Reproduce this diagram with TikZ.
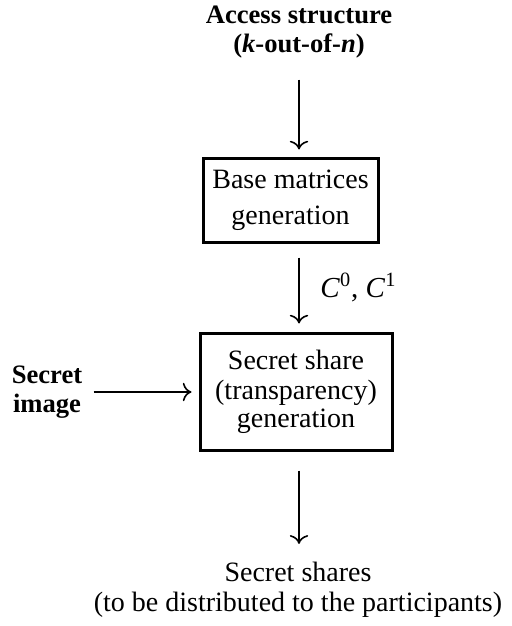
\documentclass[tikz,border=0pt]{standalone}
\usepackage{fontspec}
\setmainfont{Liberation Serif}
\usetikzlibrary{arrows.meta,positioning}

\tikzset{
  procbox/.style={draw,line width=1.5pt,align=center,inner sep=0pt},
  headtext/.style={align=center,font=\fontsize{13.3}{14.5}\selectfont\bfseries},
  plaintext/.style={align=center,font=\fontsize{14}{15}\selectfont},
  flow/.style={->,line width=0.8pt},
}

\begin{document}
\begin{tikzpicture}[x=0.5pt,y=-0.5pt,line width=0.8pt,>={To[scale=1.3]}]
\useasboundingbox (0,0) rectangle (512,626);
% ---------- 输入 ----------
\node[headtext] (access) at (299,32) {Access structure\\(\textit{k}-out-of-\textit{n})};
\node[headtext] (secret) at (47,392) {Secret\\image};
% ---------- 处理框 ----------
\node[procbox,minimum width=87.5pt,minimum height=42pt,
      font=\fontsize{14}{18}\selectfont] (base) at (290.5,200) {Base matrices\\generation};
\node[procbox,minimum width=96pt,minimum height=58.5pt,
      font=\fontsize{14}{15}\selectfont] (gen) at (296,391.5) {Secret share\\(transparency)\\[-1pt]generation};
% ---------- 输出 ----------
\node[plaintext] (shares) at (298,590) {Secret shares\\(to be distributed to the participants)};
% ---------- 箭头 ----------
\draw[flow,shorten <=7pt,shorten >=3.5pt] (access.south) -- (access.south |- base.north);
\draw[flow,shorten <=7pt,shorten >=4pt] (access.south |- base.south) -- (access.south |- gen.north)
  node[midway,right=7pt,font=\fontsize{14.5}{15}\selectfont] {\textit{C}\textsuperscript{0}, \textit{C}\textsuperscript{1}};
\draw[flow,shorten <=2pt,shorten >=3.5pt] (secret.east) -- (secret.east -| gen.west);
\draw[flow,shorten <=9.5pt,shorten >=5.5pt] (access.south |- gen.south) -- (access.south |- shares.north);
\end{tikzpicture}
\end{document}
